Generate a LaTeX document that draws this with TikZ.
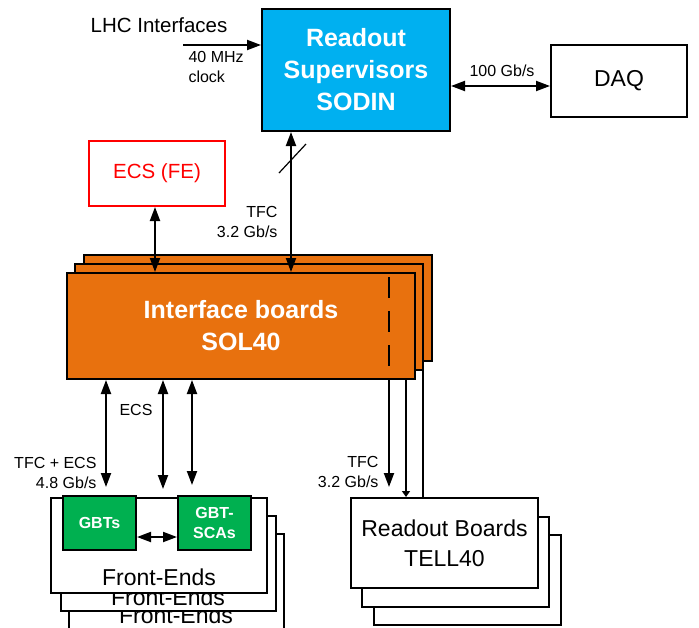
\documentclass[tikz,border=0pt]{standalone}
\usepackage{fontspec}
\setmainfont{Liberation Sans}
\usetikzlibrary{arrows.meta}
\definecolor{sodinblue}{RGB}{0,176,240}
\definecolor{solorange}{RGB}{232,113,14}
\definecolor{gbtgreen}{RGB}{0,176,80}

\begin{document}
\begin{tikzpicture}[x=1pt,y=-1pt,>={Triangle[length=14pt,width=10pt]},
    box/.style={shape=rectangle,draw=black,line width=2pt,inner sep=0pt,align=center},
    bigtext/.style={font=\fontsize{25}{32}\selectfont\bfseries,text=white},
    boardtext/.style={font=\fontsize{23}{30}\selectfont},
    small/.style={font=\fontsize{16}{20}\selectfont},
    link/.style={line width=2pt}]

    \clip (0,0) rectangle (699,627);

    % top row
    \node[box,fill=sodinblue,bigtext,minimum width=188pt,minimum height=122pt] (sodin) at (356,70) {Readout\\Supervisors\\SODIN};
    \node[box,boardtext,minimum width=136pt,minimum height=72pt] (daq) at (619,81) {DAQ};
    \node[box,draw=red,text=red,font=\fontsize{20.5}{24}\selectfont,minimum width=136pt,minimum height=65pt] (ecsfe) at (157,173.5) {ECS (FE)};
    \node[font=\fontsize{20.5}{24}\selectfont] (lhc) at (159,25) {LHC Interfaces};

    % SOL40 stack
    \node[box,fill=solorange,minimum width=348pt,minimum height=106pt] (sol3) at (258,307.5) {};
    \node[box,fill=solorange,minimum width=348pt,minimum height=106pt] (sol2) at (249,317) {};
    \node[box,fill=solorange,bigtext,minimum width=348pt,minimum height=106pt] (sol1) at (241,326) {Interface boards\\SOL40};
    \draw[line width=2pt,dash pattern=on 21pt off 13pt] (389,277) -- (389,366);

    % TELL40 stack
    \node[box,fill=white,minimum width=187pt,minimum height=90pt] (tell3) at (467,580) {};
    \node[box,fill=white,minimum width=187pt,minimum height=90pt] (tell2) at (455.5,562) {};
    \node[box,fill=white,boardtext,minimum width=187pt,minimum height=90pt] (tell1) at (444.5,543) {Readout Boards\\TELL40};

    % Front-Ends stack
    \node[box,fill=white,minimum width=215pt,minimum height=95pt] (fe3) at (176,581.5) {};
    \node[boardtext] (fe3txt) at (176,615) {Front-Ends};
    \node[box,fill=white,minimum width=215pt,minimum height=95pt] (fe2) at (168,563.5) {};
    \node[boardtext] (fe2txt) at (168,597) {Front-Ends};
    \node[box,fill=white,minimum width=216pt,minimum height=95pt] (fe1) at (159,545.5) {};
    \node[boardtext] (fe1txt) at (159,577) {Front-Ends};
    \node[box,fill=gbtgreen,text=white,font=\fontsize{16}{20}\selectfont\bfseries,minimum width=73pt,minimum height=54pt] (gbt) at (99.5,523) {GBTs};
    \node[box,fill=gbtgreen,text=white,font=\fontsize{16}{20}\selectfont\bfseries,minimum width=73pt,minimum height=54pt] (sca) at (214.5,523) {GBT-\\SCAs};

    % links at the top
    \coordinate (clk) at (183,45);
    \draw[link,->] (clk) -- (clk -| sodin.west);
    \node[small,align=left,anchor=west] (clklbl) at (185,67) {40 MHz\\clock};
    \draw[link,<->] (sodin.east |- 0,86) -- (daq.west |- 0,86);
    \node[small] (daqlbl) at (502,71) {100 Gb/s};
    \draw[link,<->] (sodin.south -| 291,0) -- (sol1.north -| 291,0);
    \draw[line width=1.2pt] (279,173) -- (306,144);
    \node[small,align=right,anchor=east] (tfclbl) at (281,222) {TFC\\3.2 Gb/s};
    \draw[link,<->] (ecsfe.south -| 155,0) -- (sol1.north -| 155,0);

    % links to the front-ends
    \draw[link,<->,shorten >=8pt] (sol1.south -| 106,0) -- (gbt.north -| 106,0);
    \draw[link,<->,shorten >=8pt] (sol1.south -| 163,0) -- (fe1.north -| 163,0);
    \draw[link,<->,shorten >=10pt] (sol1.south -| 192,0) -- (sca.north -| 192,0);
    \draw[link,<->] (gbt.east |- 0,537) -- (sca.west |- 0,537);
    \node[small] (ecslbl) at (136,410) {ECS};
    \node[small,align=right,anchor=east] (fetfc) at (100,473) {TFC + ECS\\4.8 Gb/s};

    % links to the readout boards
    \draw[link,->,shorten >=10pt] (sol1.south -| 389,0) -- (tell1.north -| 389,0);
    \draw[link,-{Triangle[length=6pt,width=8pt]}] (sol1.south -| 406,0) -- (tell1.north -| 406,0);
    \draw[link] (sol3.south -| 423,0) -- (tell1.north -| 423,0);
    \node[small,align=right,anchor=east] (rotfc) at (382,472) {TFC\\3.2 Gb/s};

\end{tikzpicture}
\end{document}
